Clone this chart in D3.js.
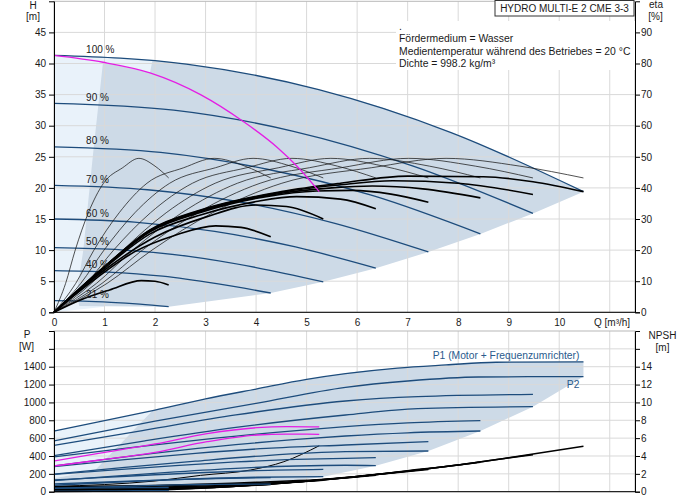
<!DOCTYPE html>
<html>
<head>
<meta charset="utf-8">
<script src="https://cdn.jsdelivr.net/npm/d3@7"></script>
<style>
  body { margin: 0; background: #fff; }
  svg { display: block; font-family: "Liberation Sans", Arial, sans-serif; }
</style>
</head>
<body>
<svg id="chart" width="691" height="500"></svg>
<script>

// ---- data ----
var qTicks = [0, 1, 2, 3, 4, 5, 6, 7, 8, 9, 10];
var qGrid = [1, 2, 3, 4, 5, 6, 7, 8, 9, 10, 11];
var hTicks = [0, 5, 10, 15, 20, 25, 30, 35, 40, 45];
var etaTicks = [0, 10, 20, 30, 40, 50, 60, 70, 80, 90];
var pTicks = [0, 200, 400, 600, 800, 1000, 1200, 1400, 1600];
var npshTicks = [0, 2, 4, 6, 8, 10, 12, 14, 16];

var speedLabels = ["100 %", "90 %", "80 %", "70 %", "60 %", "50 %", "40 %", "21 %"];

// H [m] against Q [m3/h], one array per speed
var headCurves = [
  [[0, 41.3], [2.62, 39.9], [5.24, 35.8], [7.86, 28.9], [10.48, 19.4]],
  [[0, 33.6], [2.37, 32.5], [4.74, 29.1], [7.11, 23.5], [9.48, 15.9]],
  [[0, 26.6], [2.11, 25.7], [4.22, 23.0], [6.33, 18.7], [8.44, 12.6]],
  [[0, 20.4], [1.85, 19.7], [3.7, 17.7], [5.56, 14.3], [7.41, 9.7]],
  [[0, 15.0], [1.59, 14.5], [3.18, 13.0], [4.78, 10.5], [6.37, 7.1]],
  [[0, 10.4], [1.33, 10.05], [2.67, 9.0], [4.0, 7.2], [5.33, 4.9]],
  [[0, 6.7], [1.07, 6.47], [2.15, 5.8], [3.22, 4.6], [4.29, 3.1]],
  [[0, 1.87], [0.57, 1.8], [1.13, 1.6], [1.7, 1.3], [2.27, 0.9]]
];

// magenta limit curve in the H chart
var headLimit = [[0, 41.3], [0.97, 40.2], [1.9, 38.5], [2.9, 35.0], [3.76, 30.6], [4.42, 26.5], [4.82, 23.4], [5.25, 19.4]];

// pump efficiency (thin) eta [%]
var etaPump = [
  [[0, 0], [1.05, 9.3], [1.94, 20], [3.14, 32], [4.51, 41.5], [6.29, 46.5], [7.76, 49.5], [9.22, 47], [10.48, 43.2]],
  [[0, 0], [0.95, 9.3], [1.75, 20], [2.84, 32], [4.08, 41.5], [5.69, 46.5], [7.02, 49.5], [8.34, 47], [9.48, 43.2]],
  [[0, 0], [0.84, 9.3], [1.56, 20], [2.53, 32], [3.63, 41.5], [5.06, 46.5], [6.25, 49.5], [7.43, 47], [8.44, 43.2]],
  [[0, 0], [0.74, 9.3], [1.37, 20], [2.22, 32], [3.19, 41.5], [4.45, 46.5], [5.48, 49.5], [6.52, 47], [7.41, 43.2]],
  [[0, 0], [0.64, 9.3], [1.18, 20], [1.91, 32], [2.74, 41.5], [3.82, 46.5], [4.71, 49.5], [5.61, 47], [6.37, 43.2]],
  [[0, 0], [0.53, 9.3], [0.99, 20], [1.6, 32], [2.29, 41.5], [3.2, 46.5], [3.94, 49.5], [4.69, 47], [5.33, 43.2]],
  [[0, 0], [0.43, 9.3], [0.79, 20], [1.29, 32], [1.84, 41.5], [2.57, 46.5], [3.17, 49.5], [3.78, 47], [4.29, 43.2]],
  [[0, 0], [0.23, 9.3], [0.42, 20], [0.68, 32], [0.98, 41.5], [1.36, 46.5], [1.68, 49.5], [2.0, 47], [2.27, 43.2]]
];

// total efficiency (thick) eta [%]
var etaTotal = [
  [[0, 0], [1, 14.7], [1.9, 26.5], [2.9, 32.9], [4.5, 38.8], [5.67, 41.5], [7, 43.8], [8.5, 43.6], [9.48, 42], [10.48, 38.8]],
  [[0, 0], [1, 14.7], [1.9, 26.4], [2.9, 32.7], [4.5, 38.6], [5.67, 41], [6.7, 42.3], [8, 41.5], [9.48, 37.9]],
  [[0, 0], [1, 14.6], [1.9, 26.2], [2.9, 32.4], [4.5, 38.3], [5.5, 40], [6.3, 40.6], [7.3, 39.7], [8.44, 36.8]],
  [[0, 0], [1, 14.5], [1.9, 25.9], [2.9, 32.1], [4.2, 37.2], [5.2, 39], [5.9, 39.2], [6.67, 38], [7.41, 35.4]],
  [[0, 0], [1, 14.2], [1.9, 25.2], [2.9, 31.3], [4, 35.6], [4.8, 37.2], [5.67, 36.4], [6.37, 33.3]],
  [[0, 0], [1, 13.6], [2, 24.2], [3, 30.6], [4, 34.5], [4.6, 34], [5.33, 30]],
  [[0, 0], [0.8, 10.5], [1.6, 19.5], [2.4, 24.8], [3.2, 27.8], [3.7, 27.3], [4.29, 24.3]],
  [[0, 0], [0.5, 3.8], [1.1, 7.2], [1.73, 10.2], [2.0, 10.0], [2.27, 8.8]]
];

// shaded operating areas, H chart
var headAreaLight = [[0, 41.3], [1.0, 41.1], [1.95, 40.55], [1.95, 37], [1.0, 0.9], [0, 0]];
var headAreaDark = [[1.95, 40.55], [2.62, 39.9], [4, 38.1], [5.24, 35.8], [6.47, 33.0], [7.86, 28.9], [9.0, 25.1], [10.48, 19.4],
  [9.48, 15.9], [8.44, 12.6], [7.41, 9.7], [6.37, 7.1], [5.33, 4.9], [4.29, 3.1], [2.27, 0.9],
  [0.5, 1.0], [0.45, 3], [0.58, 10], [0.78, 26], [0.97, 40.2], [1.9, 38.5]];

// P1 (motor + converter) and P2 [W]
var powerP1 = [
  [[0, 680], [1, 795], [2, 915], [3, 1040], [4, 1150], [5, 1258], [5.77, 1322], [6.8, 1385], [7.76, 1420], [8.75, 1450], [10.48, 1455]],
  [[0, 520], [1.8, 690], [3.6, 860], [5.77, 1016], [7.2, 1065], [9.48, 1090]],
  [[0, 390], [1.6, 500], [3.2, 600], [4.8, 685], [5.77, 728], [7, 770], [8.44, 795]],
  [[0, 282], [1.4, 360], [2.8, 430], [4.2, 485], [5.77, 523], [7.41, 560]],
  [[0, 195], [1.2, 245], [2.4, 292], [3.6, 333], [4.8, 362], [5.77, 374], [6.37, 381]],
  [[0, 132], [1, 160], [2, 190], [3, 215], [4, 236], [5.33, 250]],
  [[0, 88], [0.8, 103], [1.6, 120], [2.4, 135], [3.2, 148], [4.29, 157]],
  [[0, 40], [0.8, 42], [1.6, 45], [2.27, 47]]
];
var powerP2 = [
  [[0, 570], [2, 790], [4, 990], [5.77, 1169], [7, 1240], [8.4, 1285], [10.48, 1290]],
  [[0, 405], [1.8, 570], [3.6, 720], [5.77, 859], [7.2, 930], [9.48, 952]],
  [[0, 290], [1.6, 405], [3.2, 505], [4.8, 585], [5.77, 624], [7, 660], [8.44, 680]],
  [[0, 196], [1.4, 272], [2.8, 342], [4.2, 405], [5.77, 448], [7.41, 456]],
  [[0, 125], [1.2, 175], [2.4, 222], [3.6, 262], [4.8, 288], [5.77, 296], [6.37, 292]],
  [[0, 72], [1, 100], [2, 126], [3, 148], [4, 162], [5.33, 168]],
  [[0, 37], [0.8, 51], [1.6, 64], [2.4, 76], [3.2, 82], [4.29, 85]],
  [[0, 6], [0.8, 8], [1.6, 11], [2.27, 12]]
];
var powerLimitP1 = [[0, 344], [0.91, 431], [2, 535], [3.03, 650], [4.02, 717], [4.6, 728], [5.25, 725]];
var powerLimitP2 = [[0, 288], [0.91, 355], [2, 440], [3.03, 560], [4.02, 635], [4.6, 645], [5.25, 643]];

// NPSH [m]
var npshCurves = [
  [[0, 0.55], [2, 0.7], [4, 1.05], [5.77, 1.55], [7, 2.35], [8, 3.0], [9, 3.8], [10.48, 5.1]],
  [[0, 0.45], [1.8, 0.57], [3.6, 0.85], [5.2, 1.26], [6.3, 1.9], [7.2, 2.43], [8.1, 3.08], [9.48, 4.15]],
  [[0, 0.35], [1.6, 0.45], [3.2, 0.67], [4.6, 0.99], [5.6, 1.5], [6.4, 1.92], [7.2, 2.43], [8.44, 3.3]],
  [[0, 0.27], [1.4, 0.34], [2.8, 0.51], [4.04, 0.76], [4.9, 1.15], [5.6, 1.47], [6.3, 1.86], [7.41, 2.5]],
  [[0, 0.2], [1.2, 0.25], [2.4, 0.38], [3.46, 0.56], [4.2, 0.85], [4.8, 1.08], [5.4, 1.37], [6.37, 1.85]],
  [[0, 0.14], [1, 0.18], [2, 0.26], [2.9, 0.39], [3.5, 0.59], [4, 0.75], [4.5, 0.95], [5.33, 1.28]],
  [[0, 0.09], [0.8, 0.11], [1.6, 0.17], [2.3, 0.25], [2.8, 0.38], [3.2, 0.48], [3.6, 0.61], [4.29, 0.82]],
  [[0, 0.03], [0.84, 0.05], [1.2, 0.07], [1.5, 0.1], [1.9, 0.17], [2.27, 0.22]]
];
var npshLimit = [[0, 0.6], [1, 0.8], [2, 1.2], [2.9, 1.83], [3.89, 2.43], [4.55, 3.36], [5.25, 5.15]];

// shaded operating areas, P chart
var powerAreaLight = [[0, 680], [1, 795], [1.95, 910], [0.8, 235], [0, 150]];
var powerAreaDark = [[1.95, 910], [3, 1040], [4, 1150], [5, 1258], [6, 1345], [7, 1395], [8, 1430], [9, 1452], [10.48, 1455],
  [10.48, 1290], [9.48, 952], [8.44, 680], [7.41, 456], [6.37, 292], [5.33, 168], [4.29, 85], [2.27, 12],
  [0.3, 0], [0, 0], [0, 150], [0.8, 235]];

var infoLines = [".", "Fördermedium = Wasser", "Medientemperatur während des Betriebes = 20 °C", "Dichte = 998.2 kg/m³"];
var title = "HYDRO MULTI-E 2 CME 3-3";

// ---- drawing ----
var svg = d3.select("#chart");
var FONT = 10;
var blue = "#1d4c7c";
var magenta = "#e41ee4";

var x = d3.scaleLinear().domain([0, 11.5]).range([54, 635]);
var yH = d3.scaleLinear().domain([0, 50]).range([312.3, 1.3]);
var yEta = d3.scaleLinear().domain([0, 100]).range([312.3, 1.3]);
var yP = d3.scaleLinear().domain([0, 1800]).range([491.7, 331]);
var yN = d3.scaleLinear().domain([0, 18]).range([491.7, 331]);

function lineFor(ys, curve) {
  return d3.line().x(function (d) { return x(d[0]); }).y(function (d) { return ys(d[1]); })
    .curve(curve || d3.curveMonotoneX);
}

function area(g, pts, ys, fill) {
  g.append("path").attr("d", lineFor(ys, d3.curveLinear)(pts) + "Z").attr("fill", fill).attr("stroke", "none");
}

function grid(g, ys, yvals, y0, y1) {
  g.selectAll(null).data(qGrid).enter().append("line")
    .attr("x1", function (d) { return x(d); }).attr("x2", function (d) { return x(d); })
    .attr("y1", y0).attr("y2", y1)
    .attr("stroke", "#d9d9d9").attr("stroke-width", 1);
  g.selectAll(null).data(yvals).enter().append("line")
    .attr("x1", x(0)).attr("x2", x(11.5))
    .attr("y1", function (d) { return ys(d); }).attr("y2", function (d) { return ys(d); })
    .attr("stroke", "#d9d9d9").attr("stroke-width", 1);
}

function curves(g, list, ys, color, width) {
  g.selectAll(null).data(list).enter().append("path")
    .attr("d", lineFor(ys)).attr("fill", "none")
    .attr("stroke", color).attr("stroke-width", width);
}

function styleAxis(a) {
  a.selectAll("text").attr("font-size", FONT).attr("font-family", "Liberation Sans, Arial, sans-serif").attr("fill", "#1a1a1a");
  a.selectAll("line").attr("stroke", "#000");
  a.select(".domain").attr("stroke", "#000");
}

// ---- H / eta chart ----
var gTop = svg.append("g");
area(gTop, headAreaLight, yH, "#e9f2fa");
area(gTop, headAreaDark, yH, "#cddae7");
grid(gTop, yH, hTicks.slice(1), yH(50), yH(0));
gTop.append("rect").attr("x", x(0)).attr("y", yH(50)).attr("width", x(11.5) - x(0)).attr("height", yH(0) - yH(50))
  .attr("fill", "none").attr("stroke", "#b8b8b8");

curves(gTop, headCurves, yH, blue, 1.3);
curves(gTop, etaPump, yEta, "#1a1a1a", 0.75);
curves(gTop, etaTotal, yEta, "#000", 1.6);
gTop.append("path").attr("d", lineFor(yH)(headLimit)).attr("fill", "none").attr("stroke", magenta).attr("stroke-width", 1.3);

gTop.selectAll(null).data(speedLabels).enter().append("text")
  .attr("x", x(0.635))
  .attr("y", function (d, i) { return yH(headCurves[i][0][1]) - 2.5; })
  .attr("font-size", FONT).attr("fill", "#1a1a1a")
  .text(function (d) { return d; });

var axH = gTop.append("g").attr("transform", "translate(" + x(0) + ",0)")
  .call(d3.axisLeft(yH).tickValues(hTicks).tickSize(5).tickPadding(3));
styleAxis(axH);
var axEta = gTop.append("g").attr("transform", "translate(" + x(11.5) + ",0)")
  .call(d3.axisRight(yEta).tickValues(etaTicks).tickSize(5).tickPadding(1));
styleAxis(axEta);
var axQ = gTop.append("g").attr("transform", "translate(0," + yH(0) + ")")
  .call(d3.axisBottom(x).tickValues(qTicks).tickSize(0).tickPadding(7));
styleAxis(axQ);
axQ.select(".domain").attr("d", "M" + x(0) + ",0H" + x(11.5));

// info box and title
gTop.append("rect").attr("x", 396).attr("y", 21).attr("width", x(11.5) - 396).attr("height", 49).attr("fill", "#fff");
gTop.selectAll(null).data(infoLines).enter().append("text")
  .attr("x", 399).attr("y", function (d, i) { return 30 + i * 12.3; })
  .attr("font-size", 10.4).attr("fill", "#1a1a1a").text(function (d) { return d; });
gTop.append("rect").attr("x", 495).attr("y", 0.5).attr("width", 139).attr("height", 15.5)
  .attr("fill", "#fff").attr("stroke", "#333");
gTop.append("text").attr("x", 564.5).attr("y", 11.5).attr("text-anchor", "middle")
  .attr("font-size", FONT).attr("fill", "#1a1a1a").text(title);

// axis titles
function label(txt, xx, yy) {
  svg.append("text").attr("x", xx).attr("y", yy).attr("text-anchor", "middle")
    .attr("font-size", FONT).attr("fill", "#1a1a1a").text(txt);
}
label("H", 33, 8.5);
label("[m]", 33, 19.5);
label("eta", 656, 8);
label("[%]", 655.5, 19.5);
svg.append("text").attr("x", 594).attr("y", 326.3).attr("font-size", FONT).attr("fill", "#1a1a1a").text("Q [m³/h]");

// ---- P / NPSH chart ----
var gBot = svg.append("g");
area(gBot, powerAreaLight, yP, "#e9f2fa");
area(gBot, powerAreaDark, yP, "#cddae7");
grid(gBot, yP, pTicks.slice(1), yP(1800), yP(0));
gBot.append("rect").attr("x", x(0)).attr("y", yP(1800)).attr("width", x(11.5) - x(0)).attr("height", yP(0) - yP(1800))
  .attr("fill", "none").attr("stroke", "#b8b8b8");

curves(gBot, npshCurves, yN, "#000", 1.5);
gBot.append("path").attr("d", lineFor(yN)(npshLimit)).attr("fill", "none").attr("stroke", "#000").attr("stroke-width", 1);
curves(gBot, powerP2, yP, blue, 1.3);
curves(gBot, powerP1, yP, blue, 1.3);
gBot.append("path").attr("d", lineFor(yP)(powerLimitP1)).attr("fill", "none").attr("stroke", magenta).attr("stroke-width", 1.3);
gBot.append("path").attr("d", lineFor(yP)(powerLimitP2)).attr("fill", "none").attr("stroke", magenta).attr("stroke-width", 1.3);

var endP1 = powerP1[0][powerP1[0].length - 1];
var endP2 = powerP2[0][powerP2[0].length - 1];
gBot.append("text").attr("x", x(endP1[0]) - 4).attr("y", yP(endP1[1]) - 3).attr("text-anchor", "end")
  .attr("font-size", 10.3).attr("fill", "#2a5a8c").text("P1 (Motor + Frequenzumrichter)");
gBot.append("text").attr("x", x(endP2[0]) - 4).attr("y", yP(endP2[1]) + 11.5).attr("text-anchor", "end")
  .attr("font-size", 10.3).attr("fill", "#2a5a8c").text("P2");

var axP = gBot.append("g").attr("transform", "translate(" + x(0) + ",0)")
  .call(d3.axisLeft(yP).tickValues(pTicks).tickSize(5).tickPadding(3)
    .tickFormat(function (d) { return d === 1600 ? "" : d; }));
styleAxis(axP);
var axN = gBot.append("g").attr("transform", "translate(" + x(11.5) + ",0)")
  .call(d3.axisRight(yN).tickValues(npshTicks).tickSize(5).tickPadding(1)
    .tickFormat(function (d) { return d === 16 ? "" : d; }));
styleAxis(axN);
gBot.append("line").attr("x1", x(0)).attr("x2", x(11.5)).attr("y1", yP(0)).attr("y2", yP(0)).attr("stroke", "#000");

label("P", 27, 337.5);
label("[W]", 26.5, 350);
label("NPSH", 662.5, 339);
label("[m]", 662.5, 350.5);

</script>
</body>
</html>
